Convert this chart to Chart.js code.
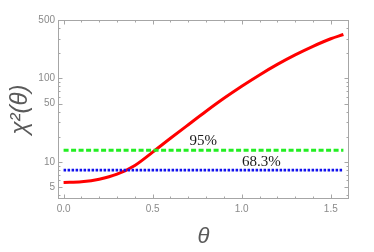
<!DOCTYPE html>
<html><head><meta charset="utf-8">
<script src="https://cdn.jsdelivr.net/npm/chart.js@4/dist/chart.umd.min.js"></script>
<style>html,body{margin:0;padding:0;background:#fff;overflow:hidden}#wrap{width:374px;height:252px;position:relative}</style>
</head><body><div id="wrap"><canvas id="c" width="374" height="252"></canvas></div>
<script>
// ---- data ----
const thetaValues = [0, 0.1, 0.2, 0.3, 0.4, 0.5, 0.6, 0.7, 0.8, 0.9, 1.0, 1.1, 1.2, 1.3, 1.4, 1.5, 1.5708];
const chi2Values  = [5.66, 5.79, 6.21, 7.13, 9.08, 13.1, 19.2, 27.9, 40.4, 57.7, 80.5, 110, 147, 191, 242, 298, 335];
const levelThetaRange = [0, 1.5708];
const level95  = 13.8;
const level683 = 8.0;
const levelNames = ['95%', '68.3%'];
const levelLabelTheta = [0.784, 1.11];
const xTicks = [0, 0.5, 1.0, 1.5];
const yTicks = [5, 10, 50, 100, 500];
const xMinorTicks = [0.1,0.2,0.3,0.4,0.6,0.7,0.8,0.9,1.1,1.2,1.3,1.4,1.6];
const yMinorTicks = [4,6,7,8,9,20,30,40,60,70,80,90,200,300,400];
const xRange = [-0.0314, 1.6022];
const yRange = [3.6, 500];

const curve = thetaValues.map((t, i) => ({x: t, y: chi2Values[i]}));
const line95 = levelThetaRange.map(t => ({x: t, y: level95}));
const line683 = levelThetaRange.map(t => ({x: t, y: level683}));

const framePlugin = {
  id: 'frame',
  afterDatasetsDraw(chart) {
    const {ctx, chartArea: a, scales: {x, y}} = chart;
    ctx.save();
    ctx.strokeStyle = '#a6a6a6';
    ctx.lineWidth = 1;
    ctx.strokeRect(a.left + 0.5, a.top + 0.5, a.right - a.left - 1, a.bottom - a.top - 1);
    ctx.beginPath();
    const xt = (v, len) => {
      const p = Math.round(x.getPixelForValue(v)) + 0.5;
      if (p < a.left || p > a.right) return;
      ctx.moveTo(p, a.bottom); ctx.lineTo(p, a.bottom - len);
      ctx.moveTo(p, a.top); ctx.lineTo(p, a.top + len);
    };
    const yt = (v, len) => {
      const p = Math.round(y.getPixelForValue(v)) + 0.5;
      if (p < a.top || p > a.bottom) return;
      ctx.moveTo(a.left, p); ctx.lineTo(a.left + len, p);
      ctx.moveTo(a.right, p); ctx.lineTo(a.right - len, p);
    };
    xTicks.forEach(v => xt(v, 4.5));
    xMinorTicks.forEach(v => xt(v, 2.5));
    yTicks.forEach(v => yt(v, 4.5));
    yMinorTicks.forEach(v => yt(v, 2.5));
    ctx.stroke();
    // level labels
    ctx.fillStyle = '#1a1a1a';
    ctx.font = '15px "Liberation Serif", serif';
    ctx.textAlign = 'center';
    ctx.textBaseline = 'alphabetic';
    ctx.fillText(levelNames[0], x.getPixelForValue(levelLabelTheta[0]), y.getPixelForValue(level95) - 5);
    ctx.fillText(levelNames[1], x.getPixelForValue(levelLabelTheta[1]), y.getPixelForValue(level683) - 4);
    ctx.restore();
  }
};

new Chart(document.getElementById('c'), {
  type: 'line',
  data: {
    datasets: [
      {data: line95, borderColor: '#22ee22', borderWidth: 2.8, borderDash: [5, 2.5], pointRadius: 0, fill: false, order: 1},
      {data: line683, borderColor: '#1010ee', borderWidth: 2.8, borderDash: [2.5, 1.5], pointRadius: 0, fill: false, order: 2},
      {data: curve, borderColor: '#ff0000', borderWidth: 3, pointRadius: 0, fill: false, cubicInterpolationMode: 'monotone', order: 3}
    ]
  },
  options: {
    responsive: false,
    animation: false,
    devicePixelRatio: 1,
    layout: {padding: {left: 0, right: 25, top: 20, bottom: 0}},
    plugins: {legend: {display: false}, tooltip: {enabled: false}},
    scales: {
      x: {
        type: 'linear', min: xRange[0], max: xRange[1],
        afterBuildTicks: s => { s.ticks = xTicks.map(v => ({value: v})); },
        afterFit: s => { s.height = 53; },
        grid: {display: false, drawTicks: false}, border: {display: false},
        ticks: {color: '#8a8a8a', font: {family: '"Liberation Sans", sans-serif', size: 10}, padding: 4, maxRotation: 0,
                callback: v => Number(v).toFixed(1)},
        title: {display: true, text: 'θ', color: '#5a5a5a', font: {family: '"Liberation Sans", sans-serif', size: 22, style: 'italic'}, padding: {top: 0, bottom: 2}}
      },
      y: {
        type: 'logarithmic', min: yRange[0], max: yRange[1],
        afterBuildTicks: s => { s.ticks = yTicks.map(v => ({value: v})); },
        afterFit: s => { s.width = 58; },
        grid: {display: false, drawTicks: false}, border: {display: false},
        ticks: {color: '#8a8a8a', font: {family: '"Liberation Sans", sans-serif', size: 10}, padding: 3,
                callback: v => String(v)},
        title: {display: true, text: 'χ²(θ)', color: '#5a5a5a', font: {family: '"Liberation Sans", sans-serif', size: 24, style: 'italic'}, padding: {top: 6, bottom: 0}}
      }
    }
  },
  plugins: [framePlugin]
});
</script>
</body></html>
